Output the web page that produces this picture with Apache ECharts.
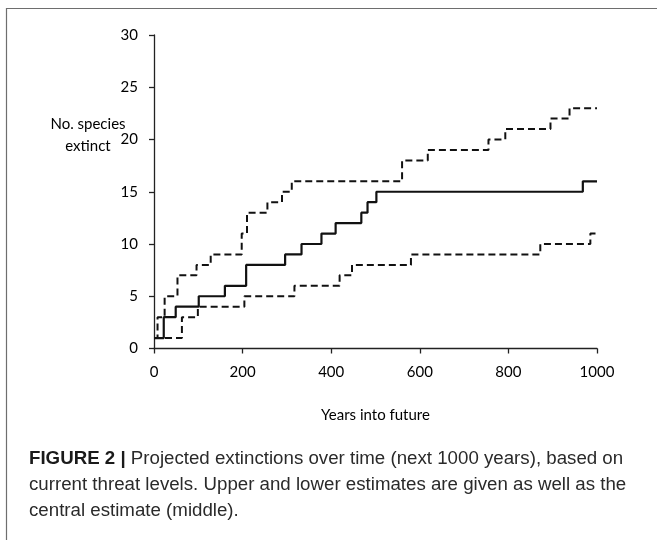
<!DOCTYPE html>
<html>
<head>
<meta charset="utf-8">
<title>Projected extinctions</title>
<script src="https://cdn.jsdelivr.net/npm/echarts@6/dist/echarts.min.js"></script>
<style>
	html, body { margin: 0; padding: 0; background: #fff; }
	#main { width: 657px; height: 540px; }
</style>
</head>
<body>
<div id="main"></div>
<script>
/*数据*/
var xTicks = [0, 200, 400, 600, 800, 1000];
var yTicks = [0, 5, 10, 15, 20, 25, 30];

// central estimate (solid)
var midYears = [0, 22, 49, 101, 160, 208, 296, 333, 378, 410, 468, 482, 502, 968, 1000];
var midCount = [1, 3, 4, 5, 6, 8, 9, 10, 11, 12, 13, 14, 15, 16, 16];

// upper estimate (dashed)
var upYears = [0, 8, 24, 53, 96, 128, 198, 210, 256, 289, 311, 560, 618, 755, 793, 895, 938, 1000];
var upCount = [1, 3, 5, 7, 8, 9, 11, 13, 14, 15, 16, 18, 19, 20, 21, 22, 23, 23];

// lower estimate (dashed)
var lowYears = [0, 63, 99, 204, 317, 419, 447, 580, 872, 985, 1000];
var lowCount = [1, 3, 4, 5, 6, 7, 8, 9, 10, 11, 11];

function pairs(xs, ys) {
	var out = [];
	for (var i = 0; i < xs.length; i++) {
		out.push([xs[i], ys[i]]);
	}
	return out;
}

var myChart = echarts.init(document.getElementById('main'), null, { renderer: 'canvas' });

var tickFont = 'Lato, "Open Sans", sans-serif';
var capFont = '"Liberation Sans", Arial, sans-serif';

var option = {
	backgroundColor: '#fff',
	animation: false,
	grid: {
		left: 154,
		right: 60,
		top: 35,
		bottom: 191.5
	},
	xAxis: {
		type: 'value',
		min: xTicks[0],
		max: xTicks[xTicks.length - 1],
		interval: xTicks[1] - xTicks[0],
		name: 'Years into future',
		nameLocation: 'middle',
		nameGap: 59,
		nameTextStyle: { color: '#000', fontFamily: tickFont, fontSize: 15 },
		axisLine: { lineStyle: { color: '#222', width: 1.3 } },
		axisTick: { show: true, length: 5, lineStyle: { color: '#222', width: 1.3 } },
		axisLabel: {
			color: '#000', fontFamily: tickFont, fontSize: 15, margin: 16,
			formatter: function(v) { return String(v); }
		},
		splitLine: { show: false }
	},
	yAxis: {
		type: 'value',
		min: yTicks[0],
		max: yTicks[yTicks.length - 1],
		interval: yTicks[1] - yTicks[0],
		axisLine: { show: true, lineStyle: { color: '#222', width: 1.3 } },
		axisTick: { show: true, length: 5, lineStyle: { color: '#222', width: 1.3 } },
		axisLabel: { color: '#000', fontFamily: tickFont, fontSize: 15, margin: 16 },
		splitLine: { show: false }
	},
	series: [{
		name: 'upper',
		type: 'line',
		step: 'end',
		symbol: 'none',
		data: pairs(upYears, upCount),
		lineStyle: { color: '#111', width: 2, type: [7, 4] }
	}, {
		name: 'central',
		type: 'line',
		step: 'end',
		symbol: 'none',
		data: pairs(midYears, midCount),
		lineStyle: { color: '#111', width: 2.2, type: 'solid' }
	}, {
		name: 'lower',
		type: 'line',
		step: 'end',
		symbol: 'none',
		data: pairs(lowYears, lowCount),
		lineStyle: { color: '#111', width: 2, type: [7, 4] }
	}],
	graphic: [{
		// frame (top + left edge)
		type: 'polyline',
		shape: { points: [[6.5, 540], [6.5, 8.5], [657, 8.5]] },
		style: { stroke: '#6e6e6e', lineWidth: 1.2, fill: null }
	}, {
		// y axis title
		type: 'text',
		x: 88,
		y: 113,
		style: {
			text: 'No. species\nextinct',
			font: '15px ' + tickFont,
			fill: '#000',
			align: 'center',
			lineHeight: 22
		}
	}, {
		// caption
		type: 'text',
		left: 29,
		top: 446,
		style: {
			text: '{b|FIGURE 2 |} Projected extinctions over time (next 1000 years), based on\ncurrent threat levels. Upper and lower estimates are given as well as the\ncentral estimate (middle).',
			font: '18.7px ' + capFont,
			fill: '#2a2a2a',
			lineHeight: 26,
			rich: {
				b: { fontWeight: 'bold', fontSize: 18.7, fontFamily: capFont, fill: '#1a1a1a' }
			}
		}
	}]
};

myChart.setOption(option);
</script>
</body>
</html>
